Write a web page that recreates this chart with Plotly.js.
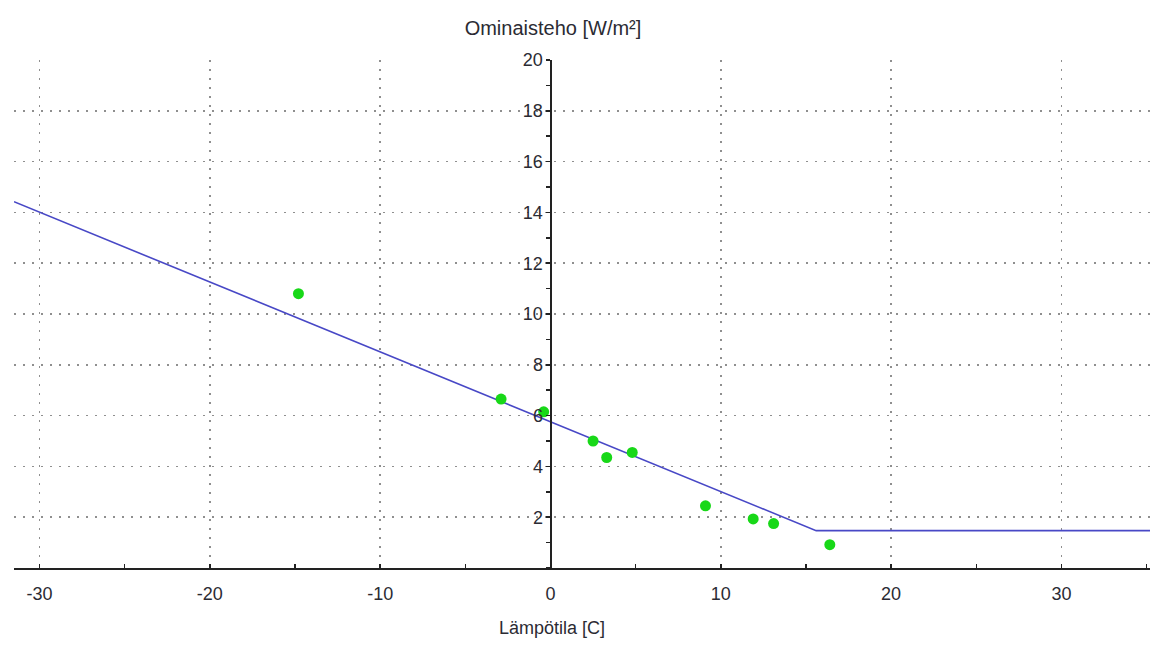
<!DOCTYPE html>
<html>
<head>
<meta charset="utf-8">
<script src="https://cdn.plot.ly/plotly-3.0.1.min.js"></script>
<style>html,body{margin:0;padding:0;background:#fff;}#chart{width:1151px;height:657px;}</style>
</head>
<body>
<div id="chart"></div>
<script>
// Measured points
const pointTemps = [-14.8, -2.9, -0.4, 2.5, 3.3, 4.8, 9.1, 11.9, 13.1, 16.4];
const pointPower = [10.8, 6.65, 6.15, 5.0, 4.35, 4.55, 2.45, 1.93, 1.75, 0.92];
// Fitted curve (break points)
const lineTemps = [-31.5, 15.6, 35.2];
const linePower = [14.42, 1.47, 1.47];
// Axis ticks
const xTickVals = [-30, -20, -10, 0, 10, 20, 30];
const xTickText = ['-30', '-20', '-10', '0', '10', '20', '30'];
const yTickVals = [2, 4, 6, 8, 10, 12, 14, 16, 18, 20];
const yTickText = ['2', '4', '6', '8', '10', '12', '14', '16', '18', '20'];
const xRange = [-31.5, 35.2];
const yRange = [0, 20];
const yTitle = 'Ominaisteho [W/m²]';
const xTitle = 'Lämpötila [C]';

const tickFont = {family: 'Liberation Sans, Arial, sans-serif', size: 18, color: '#2b2b33'};
const titleFont = {family: 'Liberation Sans, Arial, sans-serif', size: 20, color: '#2b2b33'};
const yPos = (0 - xRange[0]) / (xRange[1] - xRange[0]);

const traces = [
  {x: lineTemps, y: linePower, type: 'scatter', mode: 'lines',
   line: {color: '#4848c6', width: 1.6}, hoverinfo: 'skip', showlegend: false},
  {x: pointTemps, y: pointPower, type: 'scatter', mode: 'markers',
   marker: {color: '#18d818', size: 11}, showlegend: false}
];

const layout = {
  width: 1151, height: 657,
  margin: {l: 14, r: 1, t: 60, b: 89},
  paper_bgcolor: '#fff', plot_bgcolor: '#fff',
  font: tickFont,
  showlegend: false,
  title: {text: yTitle, font: titleFont, xref: 'container', x: 553/1151, xanchor: 'center',
          yref: 'container', y: 1 - 27.5/657, yanchor: 'middle'},
  xaxis: {
    range: xRange, tickmode: 'array', tickvals: xTickVals, ticktext: xTickText,
    showgrid: true, gridcolor: '#8f8f8f', griddash: '2px,7px', gridwidth: 1.6,
    zeroline: false, showline: true, linecolor: '#222', linewidth: 1.5,
    ticks: 'inside', ticklen: 4, tickcolor: '#222', tickwidth: 1.5,
    minor: {dtick: 5, tick0: 0, ticks: 'inside', ticklen: 4, tickcolor: '#222', tickwidth: 1.5, showgrid: false},
    ticklabelstandoff: 9,
    tickfont: tickFont, fixedrange: true
  },
  yaxis: {
    range: yRange, anchor: 'free', position: yPos,
    tickmode: 'array', tickvals: yTickVals, ticktext: yTickText,
    showgrid: true, gridcolor: '#8f8f8f', griddash: '2px,7px', gridwidth: 1.6,
    zeroline: false, showline: true, linecolor: '#222', linewidth: 1.5,
    ticks: 'outside', ticklen: 4, tickcolor: '#222', tickwidth: 1.5,
    minor: {dtick: 1, tick0: 0, ticks: 'outside', ticklen: 4, tickcolor: '#222', tickwidth: 1.5, showgrid: false},
    tickfont: tickFont, fixedrange: true
  },
  annotations: [
    {text: xTitle, xref: 'x', x: 0.1, yref: 'paper', y: -(627.7 - 568) / 508, xanchor: 'center', yanchor: 'middle',
     showarrow: false, font: {family: 'Liberation Sans, Arial, sans-serif', size: 18, color: '#2b2b33'}}
  ]
};

Plotly.newPlot('chart', traces, layout, {displayModeBar: false, staticPlot: true});
</script>
</body>
</html>
